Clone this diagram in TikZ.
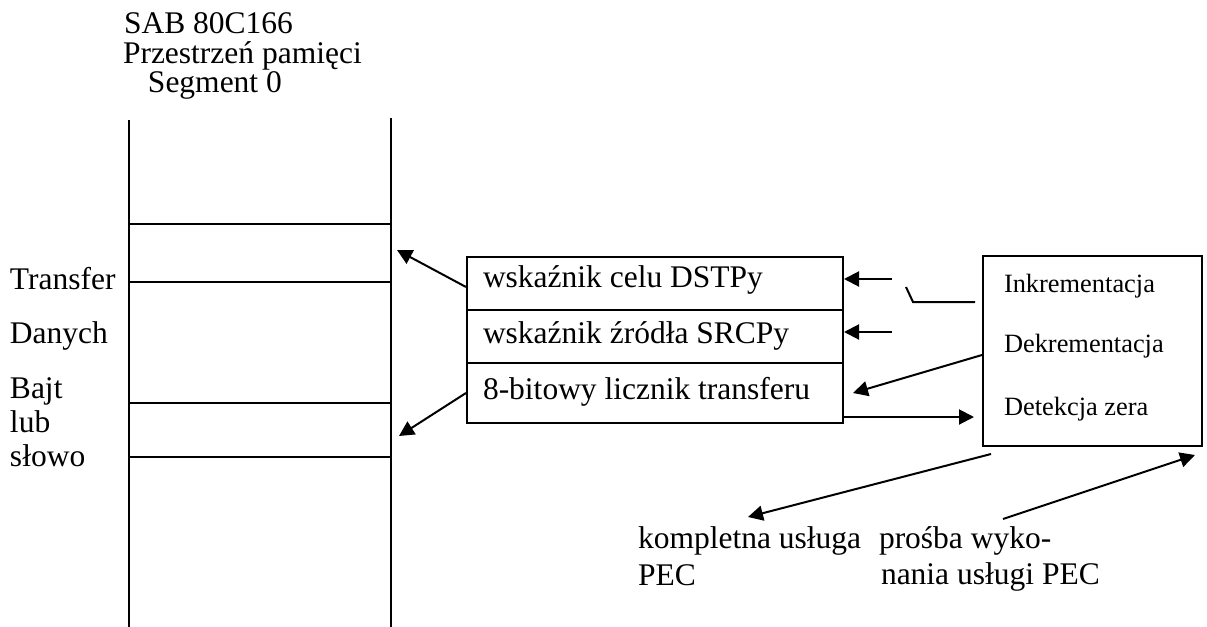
\documentclass[tikz,border=0pt]{standalone}
\usepackage{fontspec}
\setmainfont{Liberation Serif}
\usetikzlibrary{arrows.meta,calc}
\begin{document}
\begin{tikzpicture}[x=0.5pt,y=-0.5pt,
  line width=1pt,
  txt/.style={inner sep=0pt, anchor=base west, font=\fontsize{15.75pt}{18pt}\selectfont},
  small/.style={inner sep=0pt, anchor=base west, font=\fontsize{13.2pt}{16pt}\selectfont},
  reg/.style={draw, rectangle, minimum width=188pt, inner sep=0pt},
  arr/.style={-{Triangle[length=7.5pt,width=7.5pt]}},
]
\useasboundingbox (0,0) rectangle (1207,627);

% title
\node[txt] (t1) at (123,33) {SAB 80C166};
\node[txt] (t2) at (122,63) {Przestrzeń pamięci};
\node[txt] (t3) at (147,92) {Segment 0};

% memory segment column
\draw (129,120) -- (129,627);
\draw (391,118) -- (391,627);
\foreach \y in {224,282,403,457} \draw (129,\y) -- (391,\y);

% labels beside the column
\node[txt] (l1) at (9,289) {Transfer};
\node[txt] (l2) at (9,343) {Danych};
\node[txt] (l3) at (9,398) {Bajt};
\node[txt] (l4) at (9,432) {lub};
\node[txt] (l5) at (9,466) {słowo};

% PEC channel registers
\node[reg, minimum height=26.5pt] (dst) at (655,283.5) {};
\node[reg, minimum height=26.5pt] (src) at (655,336.5) {};
\node[reg, minimum height=30pt] (cnt) at (655,393) {};
\node[txt] (dstT) at (482,287) {wskaźnik celu DSTPy};
\node[txt] (srcT) at (482,343) {wskaźnik źródła SRCPy};
\node[txt] (cntT) at (482,399) {8-bitowy licznik transferu};

% control unit
\node[draw, rectangle, minimum width=109.5pt, minimum height=95pt, inner sep=0pt] (ctl) at (1092.5,351) {};
\node[small] (c1) at (1003,292) {Inkrementacja};
\node[small] (c2) at (1003,352) {Dekrementacja};
\node[small] (c3) at (1003,415) {Detekcja zera};

% free ends of connectors
\coordinate (m1) at (397,250);
\coordinate (m2) at (399,436);
\coordinate (p1) at (892,279);
\coordinate (p2) at (892,332);
\coordinate (h1) at (906,287);
\coordinate (h2) at (913,302);
\coordinate (h3) at (975,302);
\coordinate (q1) at (853,393);
\coordinate (q2) at (974,417);
\coordinate (r1) at (991,454);
\coordinate (r2) at (748,517);
\coordinate (s1) at (1003,519);
\coordinate (s2) at (1195,455);

% connectors
\draw[arr] ($(dst.west)+(0,3.5)$) -- (m1);
\draw[arr] (cnt.west) -- (m2);
\draw[arr] (p1) -- (p1 -| dst.east);
\draw[arr] (p2) -- (p2 -| src.east);
\draw (h1) -- (h2) -- (h3);
\draw[arr] ($(ctl.west)+(0,4)$) -- (q1);
\draw[arr] (q2 -| cnt.east) -- (q2);
\draw[arr] (r1) -- (r2);
\draw[arr] (s1) -- (s2);

% status lines
\node[txt] (k1) at (637,548) {kompletna usługa};
\node[txt] (k2) at (637,585) {PEC};
\node[txt] (k3) at (878,548) {prośba wyko-};
\node[txt] (k4) at (880,584) {nania usługi PEC};
\end{tikzpicture}
\end{document}
